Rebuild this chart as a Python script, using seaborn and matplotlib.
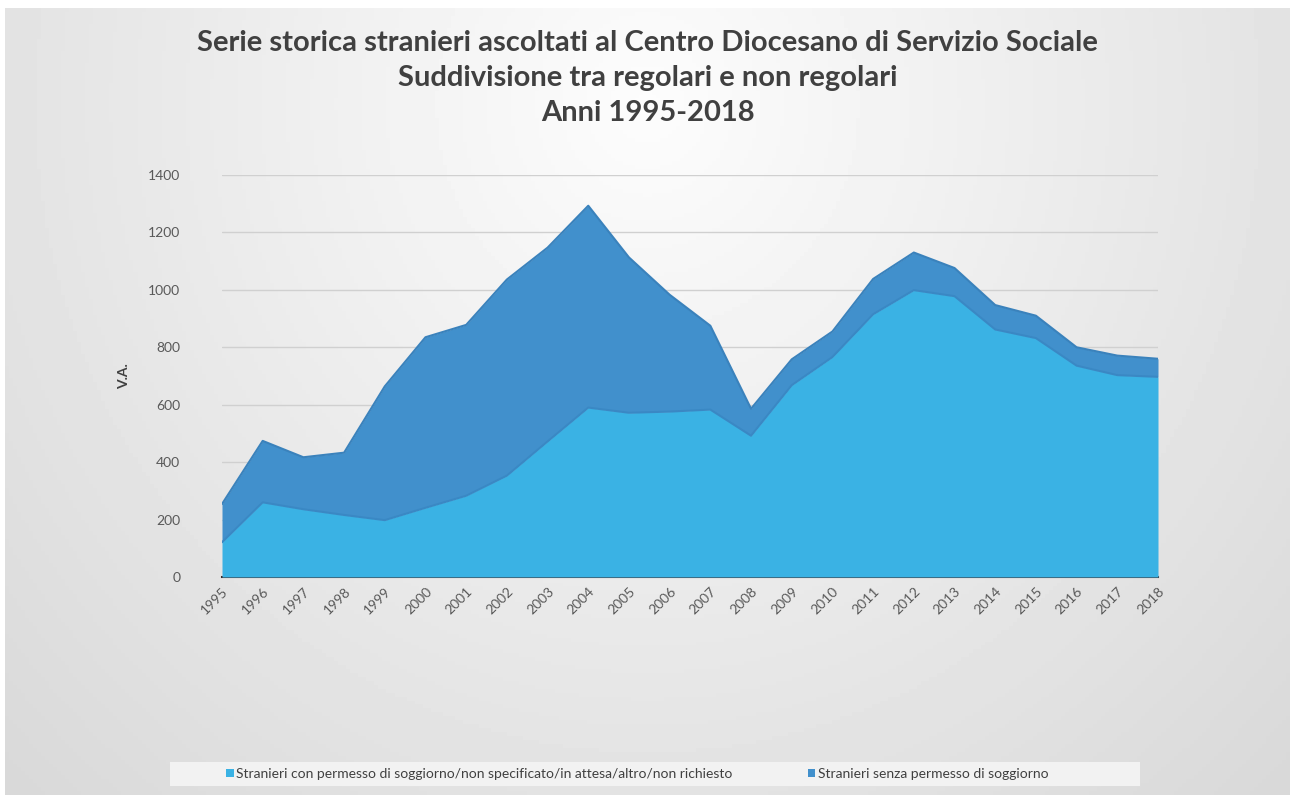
import numpy as np
import pandas as pd
import matplotlib
matplotlib.use("Agg")
import matplotlib.pyplot as plt
import seaborn as sns
from matplotlib import font_manager
from matplotlib.patches import Patch, Rectangle

# ---------------- data ----------------
years = [str(y) for y in range(1995, 2019)]
regolari = [121, 260, 236, 216, 198, 241, 283, 353, 472, 590, 572, 576,
            583, 492, 668, 766, 915, 999, 978, 862, 832, 736, 703, 697]
non_regolari = [133, 214, 181, 217, 466, 594, 595, 683, 675, 703, 541, 407,
                292, 94, 90, 89, 123, 131, 98, 85, 78, 64, 68, 63]
series_labels = [
    "Stranieri con permesso di soggiorno/non specificato/in attesa/altro/non richiesto",
    "Stranieri senza permesso di soggiorno",
]
title_lines = [
    "Serie storica stranieri ascoltati al Centro Diocesano di Servizio Sociale",
    "Suddivisione tra regolari e non regolari",
    "Anni 1995-2018",
]
y_ticks = [0, 200, 400, 600, 800, 1000, 1200, 1400]
y_label = "V.A."

# ---------------- style ----------------
sns.set_theme(style="white")
fams = {f.name for f in font_manager.fontManager.ttflist}
main_font = "Lato" if "Lato" in fams else "DejaVu Sans"
plt.rcParams["font.family"] = [main_font, "DejaVu Sans"]

c_light = "#3AB2E4"
c_dark = "#4190CC"
txt = "#404040"
tick_c = "#595959"

W, H = 1295, 798
fig = plt.figure(figsize=(W / 100, H / 100), dpi=100)
fig.patch.set_facecolor("white")

# background gradient panel
bg = fig.add_axes([0, 0, 1, 1], zorder=-10)
gy, gx = np.mgrid[0:1:200j, 0:1:320j]
r = np.sqrt(((gx - 0.5) / 0.75) ** 2 + ((gy - 0.12) / 1.3) ** 2)
val = np.clip(0.99 - 0.15 * r, 0.85, 0.99)
bg.imshow(val, cmap="gray", vmin=0, vmax=1, aspect="auto",
          extent=[5 / W, 1290 / W, 3 / H, 790 / H], origin="upper")
# legend background strip
bg.add_patch(Rectangle((170 / W, 1 - 786 / H), (1140 - 170) / W, 24 / H,
                       facecolor="#f2f2f2", edgecolor="none", zorder=2))
bg.set_xlim(0, 1)
bg.set_ylim(0, 1)
bg.axis("off")

# main axes
left, right = 222 / W, 1158 / W
bottom, top = 1 - 577 / H, 1 - 175 / H
ax = fig.add_axes([left, bottom, right - left, top - bottom])
ax.set_facecolor("none")

df = pd.DataFrame({"anno": years, "x": np.arange(len(years)),
                   "reg": regolari, "nonreg": non_regolari})
df["tot"] = df["reg"] + df["nonreg"]

ax.fill_between(df["x"], 0, df["reg"], color=c_light, lw=0, zorder=3)
ax.fill_between(df["x"], df["reg"], df["tot"], color=c_dark, lw=0, zorder=2)
sns.lineplot(data=df, x="x", y="tot", ax=ax, color="#3A82BC", lw=1.5, zorder=4)
sns.lineplot(data=df, x="x", y="reg", ax=ax, color="#3A88C4", lw=1.5, zorder=4)

ax.set_xlim(0, len(years) - 1)
ax.set_ylim(0, 1400)
ax.set_yticks(y_ticks)
ax.set_yticklabels([str(v) for v in y_ticks], color=tick_c, fontsize=10)
ax.set_xticks(df["x"])
ax.set_xticklabels(years, rotation=45, ha="right", rotation_mode="anchor",
                   color=tick_c, fontsize=10)
ax.tick_params(axis="y", length=0, pad=30)
ax.tick_params(axis="x", length=0, pad=6)
ax.grid(axis="y", color="#d0d0d0", lw=1, zorder=0)
for s in ["top", "right", "left"]:
    ax.spines[s].set_visible(False)
ax.spines["bottom"].set_color("#3a2a2a")
ax.spines["bottom"].set_linewidth(1.5)
ax.set_xlabel("")
ax.set_ylabel(y_label, fontweight="bold", color=txt, fontsize=10)
ax.yaxis.set_label_coords(-(222 - 130) / (1158 - 222), 0.5)

# title
for line, yy in zip(title_lines, [43, 78, 113]):
    fig.text(0.5, 1 - yy / H, line, ha="center", va="center",
             fontsize=21, fontweight="bold", color=txt)

# legend
handles = [Patch(facecolor=c_light, edgecolor="none"),
           Patch(facecolor=c_dark, edgecolor="none")]
leg = fig.legend(handles, series_labels, loc="center left",
                 bbox_to_anchor=(226 / W, 1 - 774 / H), ncol=2,
                 fontsize=10, frameon=False, handlelength=0.55, handleheight=0.55,
                 handletextpad=0.2, columnspacing=5.4, borderpad=0.0,
                 borderaxespad=0.0, labelcolor=txt)

fig.savefig("out.png", dpi=100)
